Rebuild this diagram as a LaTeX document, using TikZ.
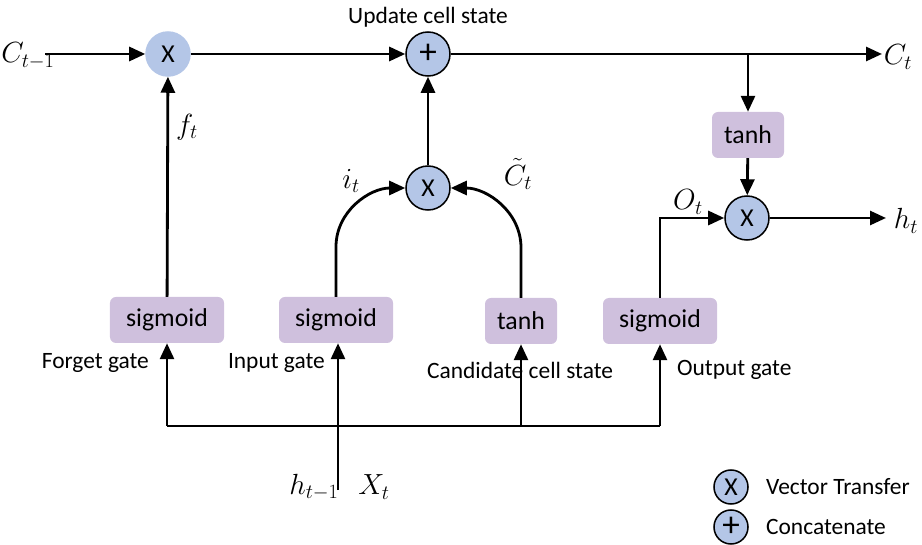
\documentclass[tikz,border=0pt]{standalone}
\usepackage{fontspec}
\setmainfont{Carlito}
\usetikzlibrary{arrows.meta}
\definecolor{opblue}{RGB}{180,198,231}
\definecolor{actlilac}{RGB}{207,192,221}
\tikzset{
  op/.style={circle,draw,line width=1.3pt,fill=opblue,minimum size=1.32cm,inner sep=0pt,font=\fontsize{22}{26}\selectfont},
  plus/.style={op,font=\fontsize{30}{30}\selectfont},
  act/.style={rectangle,rounded corners=0.18cm,fill=actlilac,minimum width=3.42cm,minimum height=1.38cm,inner sep=2pt,font=\fontsize{22}{26}\selectfont},
  arr/.style={line width=2.4pt,-{Triangle[length=0.48cm,width=0.42cm]}},
  wire/.style={line width=2.4pt},
  sym/.style={font=\fontsize{24}{28}\selectfont}
}
\begin{document}
\begin{tikzpicture}[x=0.03cm,y=-0.03cm,font=\fontsize{20}{24}\selectfont]
\useasboundingbox (0,0) rectangle (922,545);
% operators
\node[op,draw=opblue] (mulF) at (168,54) {X};
\node[plus] (add) at (428,54) {+};
\node[op] (mulI) at (428,188) {X};
\node[op] (mulO) at (747,218) {X};
% activations
\node[act] (sigF) at (167,320) {sigmoid};
\node[act] (sigI) at (336,320) {sigmoid};
\node[act,minimum width=2.16cm] (tanhC) at (521,321) {tanh};
\node[act] (sigO) at (660,321) {sigmoid};
\node[act,minimum width=2.16cm] (tanhO) at (748,135) {tanh};
% free ends
\coordinate (cin) at (45,54);
\coordinate (cout) at (882,54);
\coordinate (hout) at (886,218);
\coordinate (hin) at (338,490);
\coordinate (busL) at (167,426);
\coordinate (busR) at (660,426);
% cell state line
\draw[arr] (cin) -- (mulF);
\draw[arr] (mulF) -- (add);
\draw[arr] (add) -- (cout);
\draw[arr] (tanhO |- add) -- (tanhO);
\draw[arr] (tanhO) -- (mulO);
\draw[arr] (mulO) -- (hout);
% gates
\draw[arr] (sigF) -- (mulF);
\draw[arr] (mulI) -- (add);
\draw[arr] (sigI.north) -- ++(0,-50) to[out=90,in=180] (mulI.west);
\draw[arr] (tanhC.north) -- ++(0,-50) to[out=90,in=0] (mulI.east);
\draw[arr] (sigO) |- (mulO);
% input bus
\draw[wire] (busL) -- (busR);
\draw[arr] (busL) -- (sigF);
\draw[arr] (tanhC |- busL) -- (tanhC);
\draw[arr] (busR) -- (sigO);
\draw[arr] (hin) -- (sigI.south -| hin);
% labels
\node (lupd) at (428,17) {Update cell state};
\node[sym] (lcin) at (28,56) {$C_{t-1}$};
\node[sym] (lcout) at (898,57) {$C_t$};
\node[sym] (lft) at (187,127) {$f_t$};
\node[sym] (lit) at (351,181) {$i_t$};
\node[sym] (lct) at (518,174) {$\tilde{C}_t$};
\node[sym] (lot) at (688,202) {$O_t$};
\node[sym] (lht) at (906,221) {$h_t$};
\node[sym] (lhin) at (314,487) {$h_{t-1}$};
\node[sym] (lxt) at (374,487) {$X_t$};
\node[anchor=east] (lfg) at (153,363) {Forget gate};
\node[anchor=east] (lig) at (329,363) {Input gate};
\node[anchor=west] (lcg) at (423,370) {Candidate cell state};
\node[anchor=west] (log) at (673,370) {Output gate};
% legend
\node[op,minimum size=1.02cm] (keyX) at (731,487) {X};
\node[plus,minimum size=1.02cm] (keyP) at (731,527) {+};
\node[anchor=west] (lkX) at (762,487) {Vector Transfer};
\node[anchor=west] (lkP) at (762,527) {Concatenate};
\end{tikzpicture}
\end{document}
